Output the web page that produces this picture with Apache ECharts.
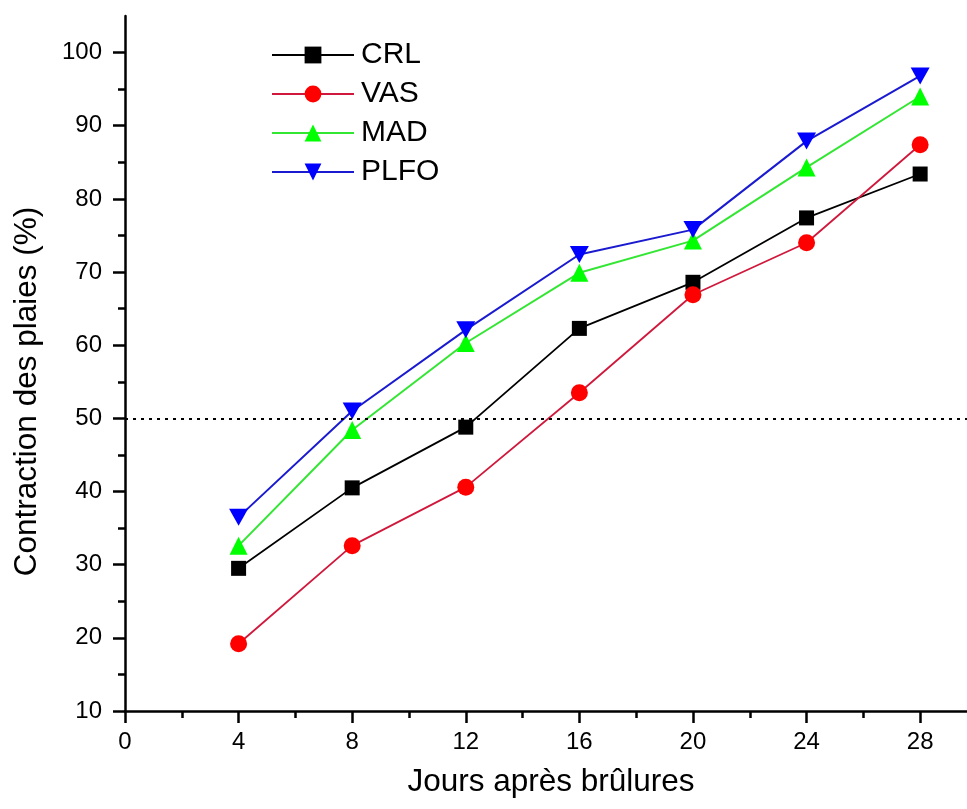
<!DOCTYPE html>
<html>
<head>
<meta charset="utf-8">
<script src="https://cdn.jsdelivr.net/npm/echarts@6/dist/echarts.min.js"></script>
<style>html,body{margin:0;padding:0;background:#fff}#c{width:967px;height:809px}</style>
</head>
<body>
<div id="c"></div>
<script>
const days = [4, 8, 12, 16, 20, 24, 28];
const crl  = [29.5, 40.5, 48.8, 62.3, 68.6, 77.4, 83.4];
const vas  = [19.2, 32.6, 40.6, 53.5, 66.9, 74.0, 87.4];
const mad  = [32.6, 48.4, 60.3, 69.9, 74.3, 84.3, 94.0];
const plfo = [36.5, 51.0, 62.1, 72.4, 75.8, 87.9, 96.8];
const xTicks = [0, 4, 8, 12, 16, 20, 24, 28];
const xMinor = [2, 6, 10, 14, 18, 22, 26];
const yTicks = [10, 20, 30, 40, 50, 60, 70, 80, 90, 100];
const yMinor = [15, 25, 35, 45, 55, 65, 75, 85, 95];
const refLine = 50;

const font = 'Liberation Sans, Arial, sans-serif';
const pair = (ys) => days.map((d, i) => [d, ys[i]]);
const downTri = 'path://M0,0 L20,0 L10,17 Z';

const chart = echarts.init(document.getElementById('c'), null, {renderer: 'canvas'});
chart.setOption({
  animation: false,
  backgroundColor: '#fff',
  grid: {left: 125, right: 0, top: 16, bottom: 98},
  legend: {
    left: 266, top: 35, orient: 'vertical',
    itemWidth: 82, itemHeight: 21, itemGap: 9,
    textStyle: {fontFamily: font, fontSize: 30, lineHeight: 30, color: '#000', padding: [0,0,0,2]},
    data: ['CRL', 'VAS', 'MAD', 'PLFO']
  },
  xAxis: [{
    type: 'value', min: 0, max: 29.65, interval: 4,
    name: 'Jours après brûlures', nameLocation: 'middle', nameGap: 55,
    nameTextStyle: {fontFamily: font, fontSize: 31.5, color: '#000', padding: [0, 0, 0, 10]},
    axisLine: {show: true, lineStyle: {color: '#000', width: 2.5}},
    axisTick: {show: true, inside: false, length: 12, lineStyle: {color: '#000', width: 2.5}, customValues: xTicks},
    axisLabel: {fontFamily: font, fontSize: 24, color: '#000', margin: 19, customValues: xTicks},
    splitLine: {show: false}
  }, {
    type: 'value', min: 0, max: 29.65, position: 'bottom',
    axisLine: {show: false},
    axisTick: {show: true, inside: false, length: 7, lineStyle: {color: '#000', width: 2.5}, customValues: xMinor},
    axisLabel: {show: false},
    splitLine: {show: false}
  }],
  yAxis: [{
    type: 'value', min: 10, max: 105, interval: 10,
    name: 'Contraction des plaies (%)', nameLocation: 'middle', nameGap: 82,
    nameTextStyle: {fontFamily: font, fontSize: 31.5, color: '#000', padding: [0, 56, 0, 0]},
    axisLine: {show: true, lineStyle: {color: '#000', width: 2.5}},
    axisTick: {show: true, inside: false, length: 12, lineStyle: {color: '#000', width: 2.5}, customValues: yTicks},
    axisLabel: {fontFamily: font, fontSize: 24, color: '#000', margin: 23, customValues: yTicks},
    splitLine: {show: false}
  }, {
    type: 'value', min: 10, max: 105, position: 'left',
    axisLine: {show: false},
    axisTick: {show: true, inside: false, length: 7, lineStyle: {color: '#000', width: 2.5}, customValues: yMinor},
    axisLabel: {show: false},
    splitLine: {show: false}
  }],
  series: [
    {name: 'CRL', type: 'line', data: pair(crl), symbol: 'rect', symbolSize: 15,
     lineStyle: {color: '#000', width: 1.8}, itemStyle: {color: '#000'},
     markLine: {silent: true, symbol: 'none', label: {show: false},
       lineStyle: {color: '#000', type: [3, 5], width: 2}, data: [{yAxis: refLine}]}},
    {name: 'VAS', type: 'line', data: pair(vas), symbol: 'circle', symbolSize: 17,
     lineStyle: {color: '#d0183c', width: 1.8}, itemStyle: {color: '#ff0000'}},
    {name: 'MAD', type: 'line', data: pair(mad), symbol: 'triangle', symbolSize: 18,
     lineStyle: {color: '#33e633', width: 2}, itemStyle: {color: '#00ff00'}},
    {name: 'PLFO', type: 'line', data: pair(plfo), symbol: downTri, symbolSize: [19, 17],
     lineStyle: {color: '#1a1ad0', width: 2}, itemStyle: {color: '#0000ff'}}
  ]
});
</script>
</body>
</html>
